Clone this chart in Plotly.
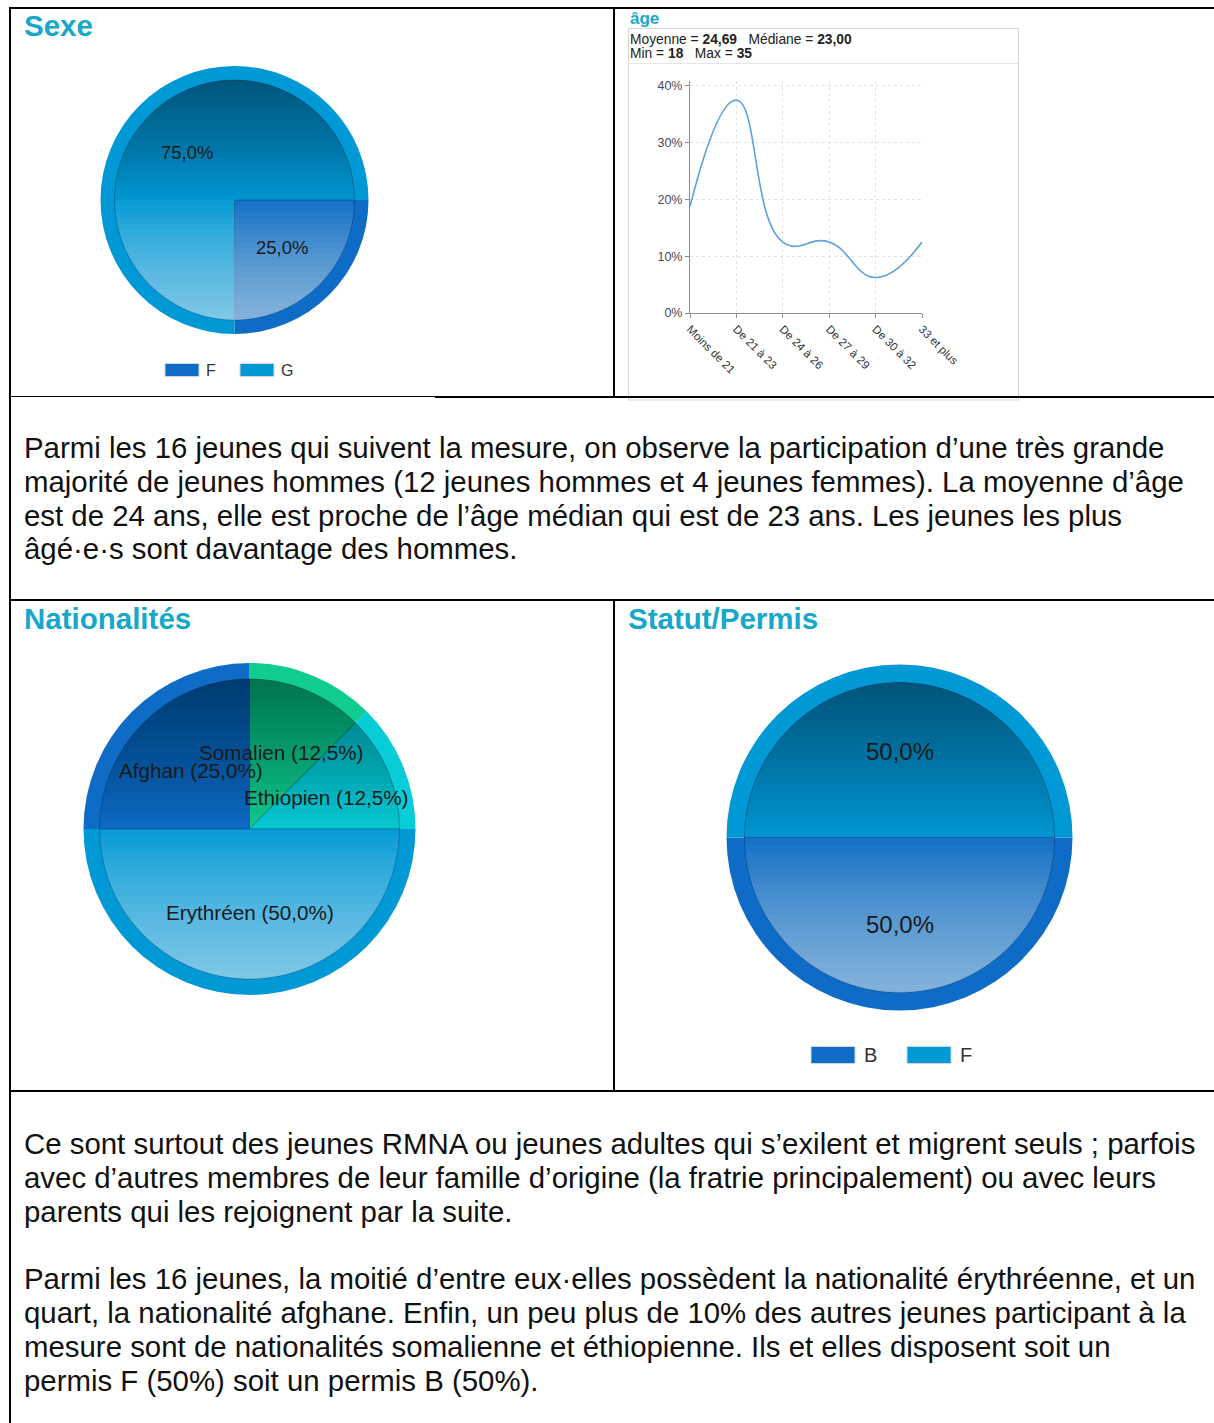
import numpy as np
import plotly.graph_objects as go

W, H = 1214, 1423

# ---------------- data ----------------
sexe_labels = ["F", "G"]
sexe_values = [4, 12]

age_categories = ["Moins de 21", "De 21 à 23", "De 24 à 26", "De 27 à 29", "De 30 à 32", "33 et plus"]
age_share = [18.75, 37.5, 12.5, 12.5, 6.25, 12.5]
age_ticks = [0, 10, 20, 30, 40]
age_stats = [("Moyenne", "24,69"), ("Médiane", "23,00"), ("Min", "18"), ("Max", "35")]

nat_labels = ["Somalien", "Ethiopien", "Erythréen", "Afghan"]
nat_values = [2, 2, 8, 4]

statut_labels = ["B", "F"]
statut_values = [8, 8]

paragraph_1 = [
    "Parmi les 16 jeunes qui suivent la mesure, on observe la participation d’une très grande",
    "majorité de jeunes hommes (12 jeunes hommes et 4 jeunes femmes). La moyenne d’âge",
    "est de 24 ans, elle est proche de l’âge médian qui est de 23 ans. Les jeunes les plus",
    "âgé·e·s sont davantage des hommes.",
]
paragraph_2 = [
    "Ce sont surtout des jeunes RMNA ou jeunes adultes qui s’exilent et migrent seuls ; parfois",
    "avec d’autres membres de leur famille d’origine (la fratrie principalement) ou avec leurs",
    "parents qui les rejoignent par la suite.",
    "",
    "Parmi les 16 jeunes, la moitié d’entre eux·elles possèdent la nationalité érythréenne, et un",
    "quart, la nationalité afghane. Enfin, un peu plus de 10% des autres jeunes participant à la",
    "mesure sont de nationalités somalienne et éthiopienne. Ils et elles disposent soit un",
    "permis F (50%) soit un permis B (50%).",
]

# ---------------- styles ----------------
FONT = "Liberation Sans, Arial, Helvetica, sans-serif"
TEAL = "#17a8c9"
BLUE = "#0e6cc6"
CYAN = "#0099d6"
GREEN = "#10cc90"
TURQ = "#08ccd8"
TEXT = "#111111"

sexe_colors = [BLUE, CYAN]
nat_colors = [GREEN, TURQ, CYAN, BLUE]
statut_colors = [BLUE, CYAN]


def px_x(x):
    return x / W


def px_y(y):
    return 1 - y / H


fig = go.Figure()
shapes = []


def cap_path(cx, cy, r, depth, top=True):
    """Circular segment of depth `depth` cut from the top (or bottom) of a circle."""
    h = r - depth
    t0 = np.arccos(np.clip(h / r, -1, 1))
    t = np.linspace(-t0, t0, 40)
    xs = cx + r * np.sin(t)
    ys = cy - r * np.cos(t) if top else cy + r * np.cos(t)
    pts = [f"{px_x(x):.6f},{px_y(y):.6f}" for x, y in zip(xs, ys)]
    return "M" + " L".join(pts) + " Z"


def add_pie(labels, values, colors, cx, cy, r, r_in, rotation, fmt, size):
    # outer rim and inner disk
    for radius, line in ((r, dict(width=0)),
                         (r_in, dict(width=1, color="rgba(10,40,80,0.3)"))):
        fig.add_trace(go.Pie(
            labels=labels, values=values, sort=False, direction="clockwise",
            rotation=rotation, marker=dict(colors=colors, line=line),
            domain=dict(x=[px_x(cx - radius), px_x(cx + radius)],
                        y=[px_y(cy + radius), px_y(cy - radius)]),
            textinfo="none", showlegend=False,
            hovertemplate="%{label}: %{percent}<extra></extra>",
        ))
    # vertical shading of the inner disk: darker on top, lighter at the bottom
    n = 20
    a_dark = 1 - (1 - 0.38) ** (1 / n)
    a_light = 1 - (1 - 0.5) ** (1 / n)
    for k in range(1, n + 1):
        d = r_in * k / n
        shapes.append(dict(type="path", xref="paper", yref="paper", layer="above",
                           path=cap_path(cx, cy, r_in, d, True),
                           fillcolor=f"rgba(0,0,0,{a_dark:.4f})", line=dict(width=0)))
        shapes.append(dict(type="path", xref="paper", yref="paper", layer="above",
                           path=cap_path(cx, cy, r_in, d, False),
                           fillcolor=f"rgba(255,255,255,{a_light:.4f})", line=dict(width=0)))
    shapes.append(dict(type="circle", xref="paper", yref="paper", layer="above",
                       x0=px_x(cx - r_in), x1=px_x(cx + r_in),
                       y0=px_y(cy + r_in), y1=px_y(cy - r_in),
                       line=dict(color="rgba(0,30,60,0.08)", width=1)))
    # slice labels at half radius along each slice's middle angle
    total = sum(values)
    cum = 0
    for lab, v in zip(labels, values):
        mid = np.radians(rotation + 360 * (cum + v / 2) / total)
        cum += v
        pct = f"{100 * v / total:.1f}".replace(".", ",") + "%"
        fig.add_annotation(
            x=px_x(cx + 0.5 * r * np.sin(mid)), y=px_y(cy - 0.5 * r * np.cos(mid)),
            xref="paper", yref="paper", showarrow=False,
            xanchor="center", yanchor="middle",
            text=fmt.format(label=lab, pct=pct),
            font=dict(family=FONT, size=size, color="#1a1a1a"),
        )


def add_legend(labels, colors, xs, y, w, h, size, gap):
    for lab, col, x in zip(labels, colors, xs):
        shapes.append(dict(type="rect", xref="paper", yref="paper", layer="above",
                           x0=px_x(x), x1=px_x(x + w), y0=px_y(y + h / 2), y1=px_y(y - h / 2),
                           fillcolor=col, line=dict(color="#cfd6dd", width=1)))
        fig.add_annotation(x=px_x(x + w + gap), y=px_y(y), xref="paper", yref="paper",
                           showarrow=False, xanchor="left", yanchor="middle", text=lab,
                           font=dict(family=FONT, size=size, color="#333333"))


# ---------------- pies ----------------
add_pie(sexe_labels, sexe_values, sexe_colors, 234.5, 200, 134, 120, 90, "{pct}", 18.5)
add_legend(sexe_labels, sexe_colors, [165, 240], 370, 34, 13, 16, 5)

add_pie(nat_labels, nat_values, nat_colors, 249.5, 829, 166, 150, 0, "{label} ({pct})", 20.7)

add_pie(statut_labels, statut_values, statut_colors, 899.5, 837.5, 173, 155, 90, "{pct}", 24)
add_legend(statut_labels, statut_colors, [811, 907], 1055, 44, 17, 20, 7)

# ---------------- age line chart ----------------
fig.add_trace(go.Scatter(
    x=age_categories, y=age_share, mode="lines",
    line=dict(color="#5ea2de", width=1.6, shape="spline", smoothing=1.3),
    showlegend=False, hovertemplate="%{x}: %{y:.2f}%<extra></extra>",
))

fig.update_layout(
    xaxis=dict(
        domain=[px_x(690), px_x(922)], type="category", categoryorder="array",
        categoryarray=age_categories, range=[0, 5], tickangle=45,
        showline=True, linecolor="#8c8c8c", linewidth=1,
        ticks="outside", ticklen=4, tickcolor="#8c8c8c",
        showgrid=True, gridcolor="#e2e2e2", griddash="dot", gridwidth=1,
        tickfont=dict(family=FONT, size=11.5, color="#333333"), automargin=False,
        fixedrange=True,
    ),
    yaxis=dict(
        domain=[px_y(313), px_y(81)], range=[0, 40.88], tickvals=age_ticks,
        ticktext=[f"{v}%" for v in age_ticks], showline=True, linecolor="#8c8c8c",
        linewidth=1, ticks="outside", ticklen=4, tickcolor="#8c8c8c",
        showgrid=True, gridcolor="#e2e2e2", griddash="dot", gridwidth=1,
        zeroline=False, tickfont=dict(family=FONT, size=12.5, color="#4a4a55"),
        automargin=False, fixedrange=True,
    ),
)

# frame around the age chart
shapes.append(dict(type="rect", xref="paper", yref="paper", layer="below",
                   x0=px_x(628.5), x1=px_x(1018.5), y0=px_y(400), y1=px_y(28.5),
                   line=dict(color="#d6d6d6", width=1)))
shapes.append(dict(type="line", xref="paper", yref="paper", layer="below",
                   x0=px_x(628.5), x1=px_x(1018.5), y0=px_y(63.5), y1=px_y(63.5),
                   line=dict(color="#e6e6e6", width=1)))

fig.add_annotation(x=px_x(628), y=px_y(18), xref="paper", yref="paper", showarrow=False,
                   xanchor="left", yanchor="middle", text="<b>âge</b>",
                   font=dict(family=FONT, size=17, color=TEAL))
sp = "\u00a0\u00a0\u00a0"
stat_lines = [
    f"{age_stats[0][0]} = <b>{age_stats[0][1]}</b>{sp}{age_stats[1][0]} = <b>{age_stats[1][1]}</b>",
    f"{age_stats[2][0]} = <b>{age_stats[2][1]}</b>{sp}{age_stats[3][0]} = <b>{age_stats[3][1]}</b>",
]
for txt, y in zip(stat_lines, [39, 53]):
    fig.add_annotation(x=px_x(628), y=px_y(y), xref="paper", yref="paper", showarrow=False,
                       xanchor="left", yanchor="middle", text=txt,
                       font=dict(family=FONT, size=13.8, color="#222222"))

# ---------------- section titles ----------------
for txt, x, y in [("Sexe", 22, 26), ("Nationalités", 22, 619), ("Statut/Permis", 626, 619)]:
    fig.add_annotation(x=px_x(x), y=px_y(y), xref="paper", yref="paper", showarrow=False,
                       xanchor="left", yanchor="middle", text=f"<b>{txt}</b>",
                       font=dict(family=FONT, size=29.5, color=TEAL))

# ---------------- paragraphs ----------------
for lines, y0 in [(paragraph_1, 447.5), (paragraph_2, 1143.5)]:
    for i, line in enumerate(lines):
        if not line:
            continue
        fig.add_annotation(x=px_x(22), y=px_y(y0 + 33.8 * i), xref="paper", yref="paper",
                           showarrow=False, xanchor="left", yanchor="middle", text=line,
                           font=dict(family=FONT, size=29.4, color=TEXT))

# ---------------- table rules ----------------
rules = [
    (9, 8, W, 8, 2), (10, 7, 10, H, 2),
    (10, 396.5, 435, 396.5, 1), (435, 397, W, 397, 2),
    (10, 600, W, 600, 2), (10, 1091, W, 1091, 2),
    (614, 8, 614, 397, 2), (614, 600, 614, 1091, 2),
]
for x0, y0, x1, y1, w in rules:
    shapes.append(dict(type="line", xref="paper", yref="paper", layer="above",
                       x0=px_x(x0), x1=px_x(x1), y0=px_y(y0), y1=px_y(y1),
                       line=dict(color="#000000", width=w)))

fig.update_layout(
    width=W, height=H, margin=dict(l=0, r=0, t=0, b=0, pad=0),
    paper_bgcolor="white", plot_bgcolor="white", showlegend=False,
    shapes=shapes, font=dict(family=FONT),
)

fig.write_html("out.html")
